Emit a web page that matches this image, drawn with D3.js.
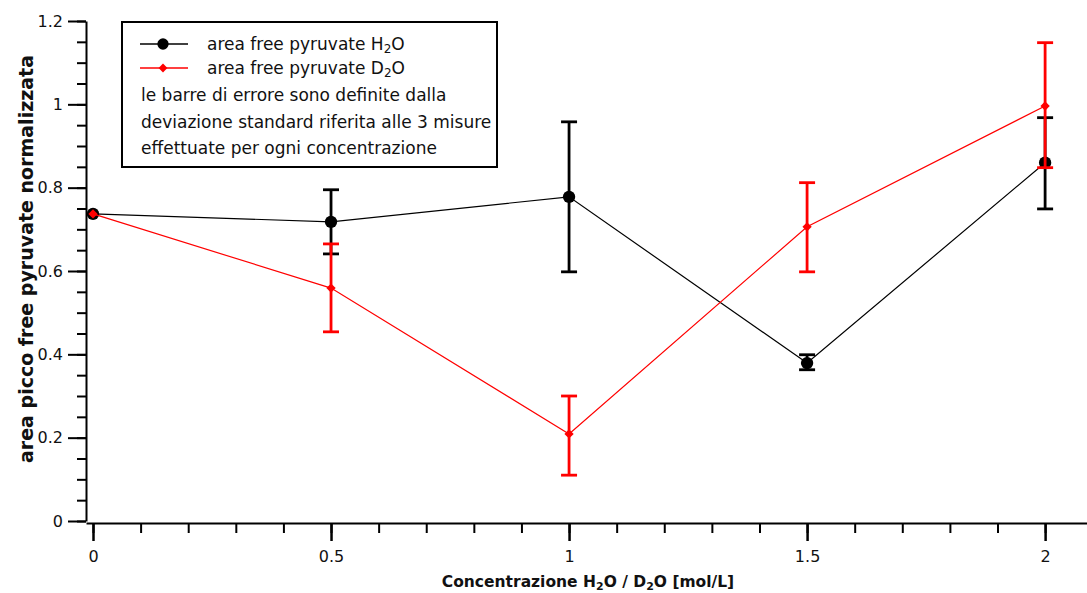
<!DOCTYPE html>
<html>
<head>
<meta charset="utf-8">
<script src="https://cdn.jsdelivr.net/npm/d3@7"></script>
<style>
  body { margin: 0; background: #fff; }
  svg text { font-family: "DejaVu Sans", Verdana, sans-serif; fill: #111; }
</style>
</head>
<body>
<div id="chart"></div>
<script>
// data
var conc = [0, 0.5, 1, 1.5, 2];
var h2oVal = [0.737, 0.718, 0.778, 0.379, 0.860];
var h2oErrHi = [null, 0.795, 0.958, 0.399, 0.968];
var h2oErrLo = [null, 0.641, 0.598, 0.363, 0.749];
var d2oVal = [0.737, 0.559, 0.209, 0.706, 0.996];
var d2oErrHi = [null, 0.665, 0.300, 0.812, 1.148];
var d2oErrLo = [null, 0.454, 0.110, 0.598, 0.848];
var yTicks = [0, 0.2, 0.4, 0.6, 0.8, 1, 1.2];
var xTicks = [0, 0.5, 1, 1.5, 2];
var legendNote = ["le barre di errore sono definite dalla",
                  "deviazione standard riferita alle 3 misure",
                  "effettuate per ogni concentrazione"];

var width = 1087, height = 593;
var margin = {top: 21, right: 0, bottom: 72, left: 86};

var svg = d3.select("#chart").append("svg")
    .attr("width", width)
    .attr("height", height);

var x = d3.scaleLinear().domain([-0.0147, 2.088]).range([margin.left, width - margin.right]);
var y = d3.scaleLinear().domain([0, 1.2]).range([height - margin.bottom, margin.top]);

// y axis: minor + major ticks
svg.append("g")
    .attr("transform", "translate(" + margin.left + ",0)")
    .call(d3.axisLeft(y).tickValues(d3.range(0, 1.2001, 0.05)).tickSize(9).tickFormat(""))
    .call(function(g){ g.select(".domain").remove(); g.selectAll("line").attr("stroke-width", 2); });
var yAx = svg.append("g")
    .attr("transform", "translate(" + margin.left + ",0)")
    .call(d3.axisLeft(y).tickValues(yTicks).tickSize(18).tickSizeOuter(0).tickPadding(5)
      .tickFormat(function(d){ return d3.format("~g")(d); }));
yAx.select(".domain").attr("stroke-width", 2);
yAx.selectAll("line").attr("stroke-width", 2);
yAx.selectAll("text").style("font-size", "16px");

// x axis sits a hair under y=0
var xAxY = y(0) + 2;
svg.append("g")
    .attr("transform", "translate(0," + xAxY + ")")
    .call(d3.axisBottom(x).tickValues(d3.range(0, 2.0501, 0.1)).tickSize(10).tickFormat(""))
    .call(function(g){ g.select(".domain").remove(); g.selectAll("line").attr("stroke-width", 2); });
var xAx = svg.append("g")
    .attr("transform", "translate(0," + xAxY + ")")
    .call(d3.axisBottom(x).tickValues(xTicks).tickSize(18).tickSizeOuter(0).tickPadding(10)
      .tickFormat(function(d){ return d3.format("~g")(d); }));
xAx.select(".domain").attr("stroke-width", 2);
xAx.selectAll("line").attr("stroke-width", 2.5);
xAx.selectAll("text").style("font-size", "16px");

// axis titles
var xt = svg.append("text")
    .attr("x", 588).attr("y", 587)
    .attr("text-anchor", "middle")
    .style("font-size", "15.5px").style("font-weight", "bold");
xt.append("tspan").text("Concentrazione H");
xt.append("tspan").text("2").attr("dy", 3).style("font-size", "11px");
xt.append("tspan").text("O / D").attr("dy", -3);
xt.append("tspan").text("2").attr("dy", 3).style("font-size", "11px");
xt.append("tspan").text("O [mol/L]").attr("dy", -3);

svg.append("text")
    .attr("transform", "translate(33,259) rotate(-90)")
    .attr("text-anchor", "middle")
    .style("font-size", "19px").style("font-weight", "bold")
    .text("area picco free pyruvate normalizzata");

// series
var series = [
  {color: "#000", val: h2oVal, hi: h2oErrHi, lo: h2oErrLo, shape: "circle"},
  {color: "#ff0000", val: d2oVal, hi: d2oErrHi, lo: d2oErrLo, shape: "diamond"}
];
var line = d3.line().x(function(d){ return x(d[0]); }).y(function(d){ return y(d[1]); });

function drawSeries(s) {
  var g = svg.append("g");
  var pts = conc.map(function(c, i){ return [c, s.val[i], s.hi[i], s.lo[i]]; });
  g.append("path").datum(pts)
    .attr("d", line).attr("fill", "none")
    .attr("stroke", s.color).attr("stroke-width", 1.2);
  var eb = g.selectAll(".err").data(pts.filter(function(d){ return d[2] != null; }))
    .enter().append("g");
  eb.append("line")
    .attr("x1", function(d){ return x(d[0]); }).attr("x2", function(d){ return x(d[0]); })
    .attr("y1", function(d){ return y(d[2]); }).attr("y2", function(d){ return y(d[3]); })
    .attr("stroke", s.color).attr("stroke-width", 2.8);
  [2, 3].forEach(function(k){
    eb.append("line")
      .attr("x1", function(d){ return x(d[0]) - 8; }).attr("x2", function(d){ return x(d[0]) + 8; })
      .attr("y1", function(d){ return y(d[k]); }).attr("y2", function(d){ return y(d[k]); })
      .attr("stroke", s.color).attr("stroke-width", 2.8);
  });
  var sym = s.shape === "circle" ? d3.symbol(d3.symbolCircle, 120) : d3.symbol(d3.symbolDiamond2, 55);
  g.selectAll(".pt").data(pts).enter().append("path")
    .attr("transform", function(d){ return "translate(" + x(d[0]) + "," + y(d[1]) + ")"; })
    .attr("d", sym).attr("fill", s.color);
}
series.forEach(drawSeries);

// legend
var lg = svg.append("g").attr("transform", "translate(122,22)");
lg.append("rect").attr("width", 375).attr("height", 145)
  .attr("fill", "#fff").attr("stroke", "#000").attr("stroke-width", 2);
var leg = [{color: "#000", shape: "circle", sub: "H"}, {color: "#ff0000", shape: "diamond", sub: "D"}];
leg.forEach(function(l, i){
  var ly = 22 + i * 24;
  lg.append("line").attr("x1", 18).attr("x2", 66).attr("y1", ly).attr("y2", ly)
    .attr("stroke", l.color).attr("stroke-width", 1.5);
  lg.append("path")
    .attr("transform", "translate(41," + ly + ")")
    .attr("d", l.shape === "circle" ? d3.symbol(d3.symbolCircle, 100)() : d3.symbol(d3.symbolDiamond2, 50)())
    .attr("fill", l.color);
  var t = lg.append("text").attr("x", 85).attr("y", ly + 6).style("font-size", "17px");
  t.append("tspan").text("area free pyruvate " + l.sub);
  t.append("tspan").text("2").attr("dy", 3).style("font-size", "12px");
  t.append("tspan").text("O").attr("dy", -3);
});
legendNote.forEach(function(s, i){
  lg.append("text").attr("x", 19).attr("y", 79 + i * 26.5)
    .style("font-size", "17px").text(s);
});
</script>
</body>
</html>
